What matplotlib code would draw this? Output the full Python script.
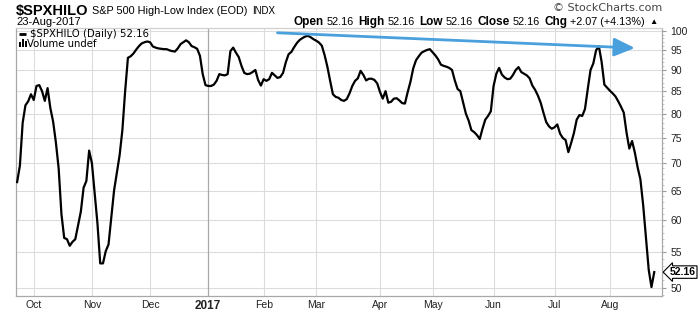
import numpy as np
import matplotlib.pyplot as plt
import matplotlib.transforms as mtransforms
from matplotlib.patches import Rectangle
from matplotlib.ticker import FixedLocator, NullFormatter

# trading calendar for the chart window
start = "2016-09-23"
end = "2017-08-24"
holidays = ["2016-11-24", "2016-12-26", "2017-01-02", "2017-01-16",
            "2017-02-20", "2017-04-14", "2017-05-29", "2017-07-04"]

# $SPXHILO daily close
values = [
    66.5, 69.5, 78.0, 81.8, 82.7, 84.3, 83.0, 86.2, 86.4, 85.0,
    82.8, 85.7, 81.2, 78.3, 74.0, 69.0, 61.0, 57.2, 57.0, 56.0,
    56.6, 57.0, 59.2, 61.4, 65.5, 66.7, 72.4, 70.0, 64.5, 59.5,
    53.4, 53.4, 55.2, 56.2, 60.5, 65.0, 68.2, 71.5, 76.5, 85.0,
    93.0, 93.4, 94.1, 95.1, 96.0, 96.7, 97.0, 97.2, 97.0, 95.9,
    95.6, 95.4, 95.3, 95.2, 95.2, 94.9, 94.7, 94.6, 95.4, 96.5,
    97.0, 97.5, 97.0, 96.0, 95.7, 95.3, 93.5, 89.0, 86.4, 86.2,
    86.2, 86.5, 87.4, 89.0, 88.8, 88.7, 89.0, 94.7, 95.6, 94.3,
    93.2, 91.0, 89.3, 89.0, 89.1, 89.5, 90.0, 87.6, 86.3, 87.8,
    87.4, 87.8, 89.3, 88.7, 88.1, 88.3, 89.3, 91.9, 93.9, 94.5,
    95.7, 96.8, 97.6, 98.1, 98.5, 98.7, 98.3, 97.8, 97.4, 96.9,
    96.1, 93.7, 90.8, 87.4, 84.3, 83.7, 83.5, 83.0, 82.8, 83.2,
    84.5, 86.2, 87.4, 88.0, 89.8, 88.8, 87.5, 87.9, 87.9, 87.6,
    86.8, 84.8, 83.3, 85.0, 82.4, 82.6, 83.3, 83.4, 82.9, 82.3,
    82.2, 84.8, 87.2, 90.4, 92.4, 93.4, 94.3, 94.7, 95.0, 95.2,
    94.4, 93.6, 92.6, 91.3, 91.0, 90.8, 90.5, 90.0, 87.5, 85.5,
    85.0, 82.5, 80.0, 78.5, 76.5, 76.1, 75.5, 74.7, 76.8, 78.7,
    79.5, 80.5, 86.2, 89.1, 90.5, 88.9, 88.2, 87.8, 87.9, 88.8,
    90.0, 90.7, 89.5, 89.1, 88.7, 88.0, 86.3, 85.3, 84.0, 82.4,
    80.2, 78.2, 77.3, 76.8, 77.1, 77.7, 75.8, 74.9, 74.5, 72.1,
    73.9, 75.9, 78.7, 79.7, 79.5, 81.0, 85.5, 90.0, 91.6, 94.9,
    96.0, 92.0, 86.5, 85.8, 85.1, 84.5, 83.8, 82.7, 81.5, 80.2,
    76.0, 72.8, 74.3, 72.0, 69.2, 67.0, 62.5, 57.3, 52.5, 50.09,
    52.16,
]
last = 52.16

# hand-drawn trend line (date, value)
trend_start = ("2017-02-08", 99.5)
trend_end = ("2017-08-14", 95.5)

yticks = [50, 55, 60, 65, 70, 75, 80, 85, 90, 95, 100]

days = np.arange(np.datetime64(start), np.datetime64(end))
dates = days[np.is_busday(days, holidays=holidays)]
x = np.arange(len(dates))

fig = plt.figure(figsize=(7, 3.12), dpi=100)
W, H = 700, 312
L, R, T, B = 16, 662, 28, 296
ax = fig.add_axes([L / W, (H - B) / H, (R - L) / W, (B - T) / H])

ax.set_yscale("log")
ax.set_ylim(48.9, 100.8)
ax.set_xlim(-0.4, len(x) + 1.8)

# gridlines
grid_c = "#dcdcdc"
for v in yticks:
    ax.axhline(v, color=grid_c, lw=0.8, zorder=0)

months = dates.astype("datetime64[M]")
first_idx = [i for i in range(1, len(months)) if months[i] != months[i - 1]]
labels = []
for i in first_idx:
    m = months[i].astype(object)
    if m.month == 1:
        labels.append(str(m.year))
        ax.axvline(i, color="#a8a8a8", lw=0.9, zorder=0)
    else:
        labels.append(m.strftime("%b"))
        ax.axvline(i, color=grid_c, lw=0.8, zorder=0)

ax.plot(x, values, color="black", lw=1.6, zorder=3)

# trend arrow
i0 = int(np.searchsorted(dates, np.datetime64(trend_start[0])))
i1 = int(np.searchsorted(dates, np.datetime64(trend_end[0])))
ax.annotate("", xy=(i1, trend_end[1]), xytext=(i0, trend_start[1]),
            arrowprops=dict(arrowstyle="-|>,head_length=0.9,head_width=0.4",
                            color="#4aa0dc", lw=2, mutation_scale=14,
                            shrinkA=0, shrinkB=0),
            zorder=4)

# axes styling
for side in ["left", "bottom", "right", "top"]:
    ax.spines[side].set_color("#a8a8a8")
    ax.spines[side].set_linewidth(0.9)
ax.spines["top"].set_color("#d0d0d0")

ax.yaxis.tick_right()
ax.yaxis.set_major_locator(FixedLocator(yticks))
ax.yaxis.set_minor_locator(FixedLocator([v for v in range(49, 101) if v % 5]))
ax.yaxis.set_minor_formatter(NullFormatter())
ax.set_yticklabels([str(v) for v in yticks])
ax.tick_params(axis="y", which="major", length=3, color="#999999",
               labelsize=7.5, labelcolor="#222222", pad=3)
ax.tick_params(axis="y", which="minor", length=1.5, color="#bbbbbb")
for t in ax.get_yticklabels():
    t.set_family("Liberation Sans")

ax.set_xticks(first_idx)
ax.set_xticklabels(labels)
ax.tick_params(axis="x", length=0, labelsize=7.5, labelcolor="#222222", pad=3)
for t in ax.get_xticklabels():
    t.set_family("Liberation Sans")
    if t.get_text().isdigit():
        t.set_fontweight("bold")
        t.set_fontsize(8.5)

# last value tag on the right axis
blend = mtransforms.blended_transform_factory(ax.transAxes, ax.transData)
ax.text(1.012, last, f"{last:.2f}", transform=blend, ha="left", va="center",
        fontsize=7.5, fontweight="bold", family="Liberation Sans",
        bbox=dict(boxstyle="larrow,pad=0.12", fc="white", ec="black", lw=0.8),
        clip_on=False, zorder=5)

# legend in the top-left corner
ax.plot([0.005, 0.015], [0.978, 0.978], transform=ax.transAxes, color="black",
        lw=2, solid_capstyle="butt")
ax.text(0.021, 0.978, "$SPXHILO (Daily) 52.16", transform=ax.transAxes,
        fontsize=7.3, va="center", family="DejaVu Sans", parse_math=False)
for k, hgt in enumerate([0.018, 0.03, 0.022]):
    ax.add_patch(Rectangle((0.005 + k * 0.0042, 0.928), 0.003, hgt,
                           transform=ax.transAxes, color="black", lw=0))
ax.text(0.0175, 0.94, "Volume undef", transform=ax.transAxes,
        fontsize=7.3, va="center", family="DejaVu Sans")

renderer = fig.canvas.get_renderer()


def run_text(x0, y, pieces, gap_after):
    # place text pieces one after another, returns the artists and end x
    arts = []
    xpos = x0
    for text, size, bold in pieces:
        t = fig.text(xpos / W, 1 - y / H, text, fontsize=size,
                     fontweight="bold" if bold else "normal",
                     family="Liberation Sans", va="center", parse_math=False)
        bb = t.get_window_extent(renderer)
        arts.append(t)
        xpos = bb.x1 + gap_after(bold)
    return arts, xpos


# header, left side
run_text(16, 10.5, [("$SPXHILO", 10.5, True),
                    ("S&P 500 High-Low Index (EOD)", 7.8, False),
                    ("INDX", 7, False)], lambda b: 4)
fig.text(16 / W, 1 - 22 / H, "23-Aug-2017", fontsize=8,
         family="Liberation Sans", va="center")
fig.text(662 / W, 1 - 8 / H, "\u00a9 StockCharts.com", fontsize=8,
         family="DejaVu Sans", color="#444444", ha="right", va="center")

# header, right side: right-aligned at x=658
pieces = [("Open", 8.5, True), ("52.16", 7.8, False), ("High", 8.5, True),
          ("52.16", 7.8, False), ("Low", 8.5, True), ("52.16", 7.8, False),
          ("Close", 8.5, True), ("52.16", 7.8, False), ("Chg", 8.5, True),
          ("+2.07 (+4.13%)", 7.8, False), ("\u25b2", 6, False)]
arts, x_end = run_text(302, 22, pieces, lambda b: 2.5 if b else 5)
shift = 658 - (x_end - 5)
for t in arts:
    px, py = t.get_position()
    t.set_position((px + shift / W, py))

fig.savefig("out.png", dpi=100)
